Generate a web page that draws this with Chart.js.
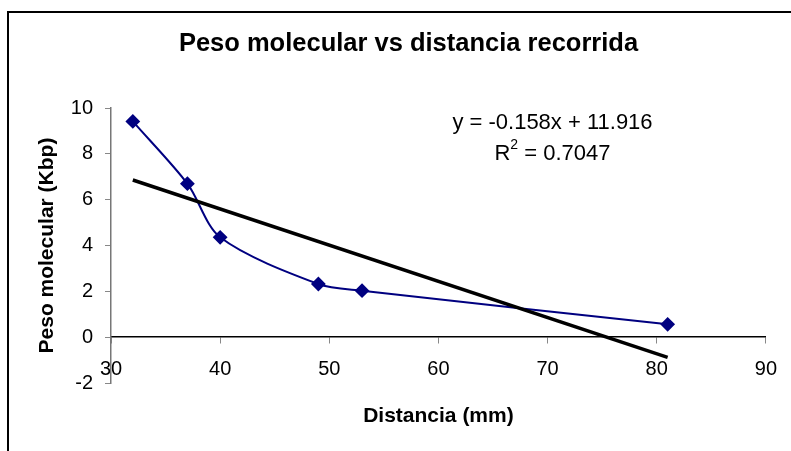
<!DOCTYPE html>
<html>
<head>
<meta charset="utf-8">
<script src="https://cdn.jsdelivr.net/npm/chart.js@4"></script>
<style>
  html, body { margin: 0; padding: 0; background: #fff; }
  #wrap { position: relative; width: 791px; height: 451px; overflow: hidden; }
  #frame { position: absolute; left: 7px; top: 11px; width: 900px; height: 600px; border-left: 2px solid #000; border-top: 2px solid #000; pointer-events: none; }
  canvas { position: absolute; left: 0; top: 0; }
</style>
</head>
<body>
<div id="wrap">
  <canvas id="chart" width="791" height="451"></canvas>
  <div id="frame"></div>
</div>
<script>
// valores
const distancia = [32, 37, 40, 49, 53, 81];
const peso = [9.42, 6.7, 4.36, 2.32, 2.03, 0.56];
// linea de tendencia (extremos)
const trendX = [32, 81];
const trendY = [6.86, -0.88];
const xTicks = [30, 40, 50, 60, 70, 80, 90];
const yTicks = [-2, 0, 2, 4, 6, 8, 10];
const ecuacion = "y = -0.158x + 11.916";
const r2 = "0.7047";

const FONT = "'Liberation Sans', Arial, sans-serif";

const eqPlugin = {
  id: 'ecuacion',
  afterDatasetsDraw(chart) {
    const ctx = chart.ctx;
    const x = chart.scales.x.getPixelForValue(70.45);
    const y1 = chart.scales.y.getPixelForValue(9.37);
    const y2 = chart.scales.y.getPixelForValue(8.02);
    ctx.save();
    ctx.fillStyle = '#000';
    ctx.textBaseline = 'middle';
    ctx.font = '22px ' + FONT;
    ctx.textAlign = 'center';
    ctx.fillText(ecuacion, x, y1);
    // R^2 con superindice
    const a = 'R', b = ' = ' + r2;
    const wa = ctx.measureText(a).width;
    const wb = ctx.measureText(b).width;
    ctx.font = '14px ' + FONT;
    const ws = ctx.measureText('2').width;
    let left = x - (wa + ws + wb) / 2;
    ctx.textAlign = 'left';
    ctx.font = '22px ' + FONT;
    ctx.fillText(a, left, y2);
    ctx.font = '14px ' + FONT;
    ctx.fillText('2', left + wa, y2 - 8);
    ctx.font = '22px ' + FONT;
    ctx.fillText(b, left + wa + ws, y2);
    ctx.restore();
  }
};

const ctx = document.getElementById('chart').getContext('2d');
new Chart(ctx, {
  type: 'scatter',
  data: {
    datasets: [
      {
        label: 'Tendencia',
        data: trendX.map((x, i) => ({ x: x, y: trendY[i] })),
        showLine: true,
        borderColor: '#000',
        borderWidth: 3.5,
        pointRadius: 0,
        order: 0
      },
      {
        label: 'Peso molecular',
        data: distancia.map((x, i) => ({ x: x, y: peso[i] })),
        showLine: true,
        tension: 0.3,
        borderColor: '#000080',
        borderWidth: 2,
        pointStyle: 'rectRot',
        pointRadius: 6,
        pointBackgroundColor: '#000080',
        pointBorderColor: '#000080',
        order: 1
      }
    ]
  },
  options: {
    responsive: false,
    animation: false,
    layout: { padding: { left: 45, right: 19, top: 0, bottom: 68 } },
    plugins: {
      legend: { display: false },
      tooltip: { enabled: false },
      title: {
        display: true,
        text: 'Peso molecular vs distancia recorrida',
        color: '#000',
        font: { family: FONT, size: 25.5, weight: 'bold' },
        padding: { top: 29, bottom: 48.5 }
      }
    },
    scales: {
      x: {
        type: 'linear',
        position: { y: 0 },
        min: 30,
        max: 90,
        afterBuildTicks(scale) { scale.ticks = xTicks.map(v => ({ value: v })); },
        afterFit(scale) { scale.height = 68; },
        ticks: { color: '#000', padding: 14, font: { family: FONT, size: 20 } },
        grid: { drawOnChartArea: false, drawTicks: true, tickLength: 6, color: '#888' },
        border: { color: '#000', width: 1.5 },
        title: {
          display: true,
          text: 'Distancia (mm)',
          color: '#000',
          font: { family: FONT, size: 21, weight: 'bold' },
          padding: { top: 0, bottom: -23.6 }
        }
      },
      y: {
        type: 'linear',
        position: 'left',
        min: -2,
        max: 10,
        afterBuildTicks(scale) { scale.ticks = yTicks.map(v => ({ value: v })); },
        afterFit(scale) { scale.width = 66; },
        ticks: { color: '#000', padding: 12, font: { family: FONT, size: 20 } },
        grid: { drawOnChartArea: false, drawTicks: true, tickLength: 6, color: '#888' },
        border: { color: '#777', width: 1.5 },
        title: {
          display: true,
          text: 'Peso molecular (Kbp)',
          color: '#000',
          font: { family: FONT, size: 21, weight: 'bold' },
          padding: { top: -10.6, bottom: 0 }
        }
      }
    }
  },
  plugins: [eqPlugin]
});
</script>
</body>
</html>
